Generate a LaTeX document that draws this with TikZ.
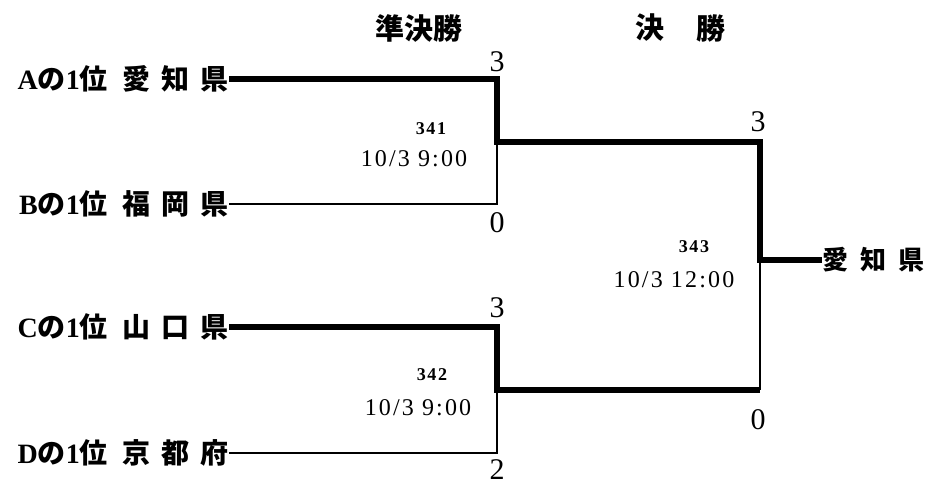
\documentclass[tikz,border=0pt]{standalone}
\usepackage{fontspec}
\setmainfont{Liberation Serif}
\newfontfamily\jp{Noto Sans CJK JP}
\newfontfamily\numfont{Liberation Serif}[LetterSpace=9]
\begin{document}
\begin{tikzpicture}[x=1pt,y=-1pt,
  thickline/.style={line width=6.5pt, line join=miter},
  thinline/.style={line width=2.2pt},
  team/.style={anchor=east, inner sep=0pt, font=\fontsize{28}{28}\selectfont},
  score/.style={inner sep=0pt, font=\fontsize{30}{30}\selectfont},
  gameno/.style={inner sep=0pt, font=\numfont\bfseries\fontsize{18}{18}\selectfont},
  gametime/.style={inner sep=0pt, font=\numfont\fontsize{24}{24}\selectfont},
  head/.style={inner sep=0pt, font=\jp\bfseries\fontsize{29}{29}\selectfont}]
\useasboundingbox (0,0) rectangle (934,486);

% headings
\node[head] (h1) at (419,28) {準決勝};
\node[head] (h2a) at (650,28) {決};
\node[head] (h2b) at (711,28) {勝};

% teams
\node[team] (A) at (229,79) {\textbf{A}{\jp\bfseries の}\textbf{1}{\jp\bfseries 位\hspace{15pt}愛\hspace{11pt}知\hspace{11pt}県}};
\node[team] (B) at (229,204) {\textbf{B}{\jp\bfseries の}\textbf{1}{\jp\bfseries 位\hspace{15pt}福\hspace{11pt}岡\hspace{11pt}県}};
\node[team] (C) at (229,327) {\textbf{C}{\jp\bfseries の}\textbf{1}{\jp\bfseries 位\hspace{15pt}山\hspace{11pt}口\hspace{11pt}県}};
\node[team] (D) at (229,453) {\textbf{D}{\jp\bfseries の}\textbf{1}{\jp\bfseries 位\hspace{15pt}京\hspace{11pt}都\hspace{11pt}府}};

% bracket corners
\coordinate (s1a) at (497,79);
\coordinate (s1m) at (497,142);
\coordinate (s1b) at (497,204);
\coordinate (s2a) at (497,327);
\coordinate (s2m) at (497,390);
\coordinate (s2b) at (497,453);
\coordinate (fa) at (760,142);
\coordinate (fm) at (760,260);
\coordinate (fb) at (760,390);

% winner
\node[anchor=west, inner sep=0pt, font=\jp\bfseries\fontsize{26}{26}\selectfont] (W) at (822,260) {愛\hspace{12pt}知\hspace{12pt}県};

% thin lines
\draw[thinline] (B.east) -- (s1b) -- (s1m);
\draw[thinline] (D.east) -- (s2b) -- (s2m);
\draw[thinline] (fb) -- (fm);
% thick (winning) lines
\draw[thickline] (A.east) -- (s1a) -- (s1m) -- (fa) -- (fm) -- (W.west);
\draw[thickline] (C.east) -- (s2a) -- (s2m) -- (fb);

% scores
\node[score] (sA) at (497,62) {3};
\node[score] (sB) at (497,223) {0};
\node[score] (sC) at (497,308) {3};
\node[score] (sD) at (497,470) {2};
\node[score] (sF1) at (758,122) {3};
\node[score] (sF2) at (758,420) {0};

% game info
\node[gameno] (g1) at (431,129) {341};
\node[gametime] (t1) at (414,159) {10/3 9:00};
\node[gameno] (g2) at (432,375) {342};
\node[gametime] (t2) at (418,408) {10/3 9:00};
\node[gameno] (g3) at (694,247) {343};
\node[gametime] (t3) at (674,280) {10/3 12:00};
\end{tikzpicture}
\end{document}
